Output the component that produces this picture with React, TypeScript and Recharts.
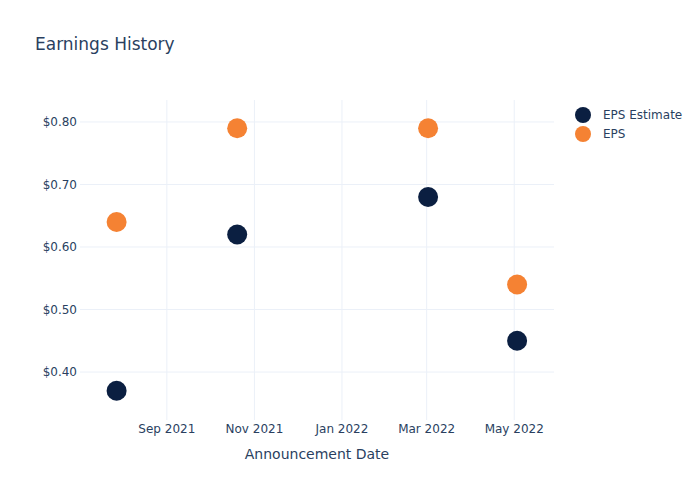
import { ScatterChart, Scatter, XAxis, YAxis, CartesianGrid } from "recharts";

const announceDates = ["2021-07-28", "2021-10-20", "2022-03-02", "2022-05-03"];
const epsEstimate = [0.37, 0.62, 0.68, 0.45];
const epsActual = [0.64, 0.79, 0.79, 0.54];

const xTickDates = ["2021-09-01", "2021-11-01", "2022-01-01", "2022-03-01", "2022-05-01"];
const yTicks = [0.4, 0.5, 0.6, 0.7, 0.8];

const MONTHS = ["Jan", "Feb", "Mar", "Apr", "May", "Jun", "Jul", "Aug", "Sep", "Oct", "Nov", "Dec"];
const TEXT = "#2a3f5f";
const GRID = "#ebf0f8";
const NAVY = "#0b1f41";
const ORANGE = "#f58233";
const FONT = "'DejaVu Sans', 'Open Sans', Verdana, sans-serif";

const ts = (d: string) => Date.parse(d + "T00:00:00Z");

const estimateData = announceDates.map((d, i) => ({ x: ts(d), y: epsEstimate[i] }));
const epsData = announceDates.map((d, i) => ({ x: ts(d), y: epsActual[i] }));

const fmtMonth = (t: number) => {
  const d = new Date(t);
  return `${MONTHS[d.getUTCMonth()]} ${d.getUTCFullYear()}`;
};

const dot = (color: string) => (props: any) =>
  <circle cx={props.cx} cy={props.cy} r={10} fill={color} />;

// grid lines only at the tick values (no border at the domain edges)
const axisScale = (axis: any) => (v: number) => {
  const s = axis?.scale;
  return typeof s === "function" ? s(v) : s?.map ? s.map(v) : 0;
};

const legendItems = [
  { name: "EPS Estimate", color: NAVY },
  { name: "EPS", color: ORANGE },
];

export default function App() {
  return (
    <div style={{ position: "absolute", left: 0, top: 0, width: 700, height: 500, background: "#fff", fontFamily: FONT }}>
      <div style={{ position: "absolute", left: 35, top: 34, fontSize: 17, color: TEXT }}>Earnings History</div>
      <div style={{ position: "absolute", left: 575, top: 105, fontSize: 12, color: TEXT }}>
        {legendItems.map((it) => (
          <div key={it.name} style={{ display: "flex", alignItems: "center", height: 19 }}>
            <span style={{ width: 16, height: 16, borderRadius: 8, background: it.color, display: "inline-block" }} />
            <span style={{ marginLeft: 12 }}>{it.name}</span>
          </div>
        ))}
      </div>
      <ScatterChart width={700} height={500} margin={{ top: 100, right: 146, left: 20, bottom: 50 }}>
        <CartesianGrid
          stroke={GRID}
          strokeWidth={1}
          horizontalCoordinatesGenerator={({ yAxis }: any) => yTicks.map(axisScale(yAxis))}
          verticalCoordinatesGenerator={({ xAxis }: any) => xTickDates.map(ts).map(axisScale(xAxis))}
        />
        <XAxis
          type="number"
          dataKey="x"
          domain={[Date.UTC(2021, 6, 2, 12), Date.UTC(2022, 4, 28, 17)]}
          ticks={xTickDates.map(ts)}
          tickFormatter={fmtMonth}
          axisLine={false}
          tickLine={false}
          tickSize={0}
          tickMargin={4}
          height={30}
          allowDataOverflow
          tick={{ fontSize: 12, fill: TEXT, fontFamily: FONT }}
          label={{ value: "Announcement Date", position: "bottom", offset: -1, fontSize: 14, fill: TEXT, fontFamily: FONT }}
        />
        <YAxis
          type="number"
          dataKey="y"
          domain={[0.3233, 0.8351]}
          ticks={yTicks}
          tickFormatter={(v: number) => `$${v.toFixed(2)}`}
          axisLine={false}
          tickLine={false}
          tickSize={0}
          tickMargin={3}
          width={60}
          allowDataOverflow
          tick={{ fontSize: 12, fill: TEXT, fontFamily: FONT }}
        />
        <Scatter name="EPS Estimate" data={estimateData} fill={NAVY} shape={dot(NAVY)} isAnimationActive={false} />
        <Scatter name="EPS" data={epsData} fill={ORANGE} shape={dot(ORANGE)} isAnimationActive={false} />
      </ScatterChart>
    </div>
  );
}
